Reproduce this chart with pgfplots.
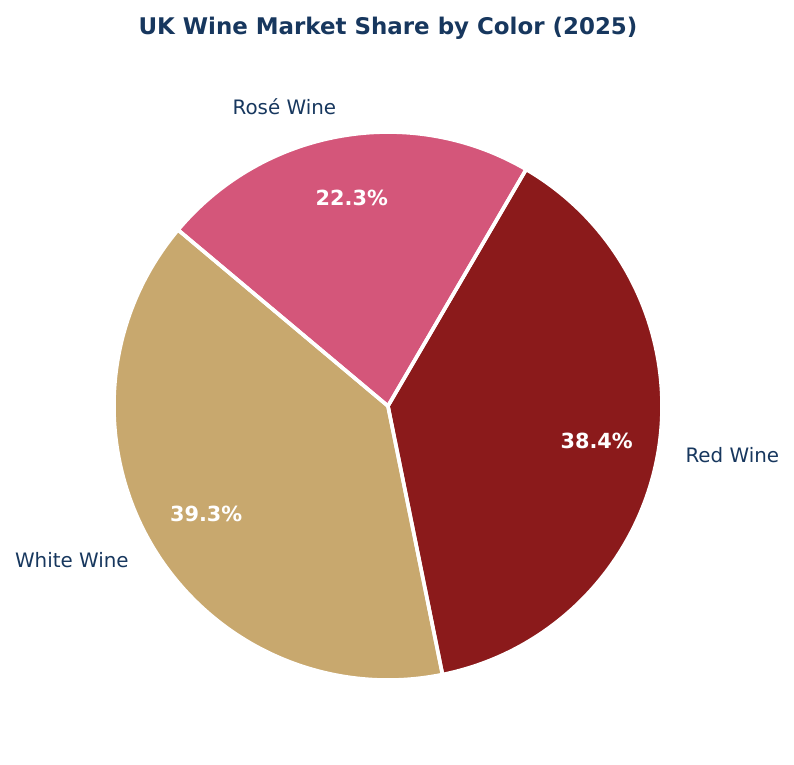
\documentclass[border=0pt]{standalone}
\usepackage{pgfplots}
\pgfplotsset{compat=1.18}
\usepackage{fontspec}
\setmainfont{DejaVu Sans}
\definecolor{whitewine}{HTML}{C8A86E}
\definecolor{redwine}{HTML}{8B1A1B}
\definecolor{rosewine}{HTML}{D4567A}
\definecolor{navy}{HTML}{17375E}
% data (percent)
\def\vWhite{39.3}
\def\vRed{38.4}
\def\vRose{22.3}
\pgfmathsetmacro\aA{140}
\pgfmathsetmacro\aB{\aA+3.6*\vWhite}
\pgfmathsetmacro\aC{\aB+3.6*\vRed}
\pgfmathsetmacro\aD{\aC+3.6*\vRose}
\pgfmathsetmacro\mA{(\aA+\aB)/2}
\pgfmathsetmacro\mB{(\aB+\aC)/2}
\pgfmathsetmacro\mC{(\aC+\aD)/2}
\begin{document}
\begin{tikzpicture}
\begin{axis}[
  x=205.5pt, y=205.5pt,
  xmin=-1.416, xmax=1.482, ymin=-1.310, ymax=1.482,
  hide axis, clip=false, scale only axis,
]
\path (rel axis cs:0,0) rectangle (rel axis cs:1,1);
\fill[whitewine] (axis cs:0,0) -- (axis cs:{cos(\aA)},{sin(\aA)}) arc[start angle=\aA, end angle=\aB, radius=205.5pt] -- cycle;
\fill[redwine] (axis cs:0,0) -- (axis cs:{cos(\aB)},{sin(\aB)}) arc[start angle=\aB, end angle=\aC, radius=205.5pt] -- cycle;
\fill[rosewine] (axis cs:0,0) -- (axis cs:{cos(\aC)},{sin(\aC)}) arc[start angle=\aC, end angle=\aD, radius=205.5pt] -- cycle;
\draw[white, line width=2.7pt, line join=round] (axis cs:0,0) -- (axis cs:{cos(\aA)},{sin(\aA)}) arc[start angle=\aA, end angle=\aB, radius=205.5pt] -- cycle;
\draw[white, line width=2.7pt, line join=round] (axis cs:0,0) -- (axis cs:{cos(\aB)},{sin(\aB)}) arc[start angle=\aB, end angle=\aC, radius=205.5pt] -- cycle;
\draw[white, line width=2.7pt, line join=round] (axis cs:0,0) -- (axis cs:{cos(\aC)},{sin(\aC)}) arc[start angle=\aC, end angle=\aD, radius=205.5pt] -- cycle;
% labels
\node[anchor=east, text=navy, font=\fontsize{14.9}{18}\selectfont, inner sep=0pt] at (axis cs:{1.1*cos(\mA)},{1.1*sin(\mA)}) {White Wine};
\node[anchor=west, text=navy, font=\fontsize{14.9}{18}\selectfont, inner sep=0pt] at (axis cs:{1.1*cos(\mB)},{1.1*sin(\mB)}) {Red Wine};
\node[anchor=east, text=navy, font=\fontsize{14.9}{18}\selectfont, inner sep=0pt] at (axis cs:{1.1*cos(\mC)},{1.11*sin(\mC)}) {Rosé Wine};
% percentages
\node[text=white, font=\bfseries\fontsize{15.6}{18}\selectfont, inner sep=0pt] at (axis cs:{0.772*cos(\mA)},{0.772*sin(\mA)}) {39.3\%};
\node[text=white, font=\bfseries\fontsize{15.6}{18}\selectfont, inner sep=0pt] at (axis cs:{0.772*cos(\mB)},{0.772*sin(\mB)}) {38.4\%};
\node[text=white, font=\bfseries\fontsize{15.6}{18}\selectfont, inner sep=0pt] at (axis cs:{0.772*cos(\mC)},{0.772*sin(\mC)}) {22.3\%};
% title
\node[text=navy, font=\bfseries\fontsize{17.2}{20}\selectfont, inner sep=0pt] at (axis cs:0,1.38) {UK Wine Market Share by Color (2025)};
\end{axis}
\end{tikzpicture}
\end{document}
